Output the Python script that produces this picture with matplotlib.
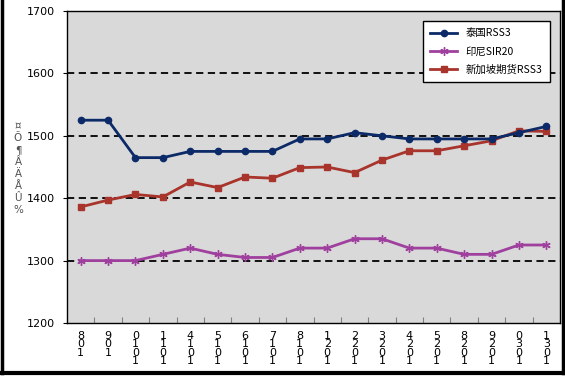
import matplotlib
matplotlib.use("Agg")
import matplotlib.pyplot as plt
from matplotlib.lines import Line2D

plt.rcParams['font.family'] = ['Noto Sans CJK SC', 'DejaVu Sans']

# x labels as they appear (stacked characters)
x_labels = ["801", "901", "0101", "1101", "4101", "5101", "6101", "7101", "8101",
            "1201", "2201", "3201", "4201", "5201", "8201", "9201", "0301", "1301"]

thai_rss3 = [1525, 1525, 1465, 1465, 1475, 1475, 1475, 1475, 1495,
             1495, 1505, 1500, 1495, 1495, 1495, 1495, 1505, 1515]
indo_sir20 = [1300, 1300, 1300, 1310, 1320, 1310, 1305, 1305, 1320,
              1320, 1335, 1335, 1320, 1320, 1310, 1310, 1325, 1325]
sgx_rss3 = [1386, 1397, 1406, 1402, 1426, 1417, 1434, 1432, 1449,
            1450, 1441, 1461, 1476, 1476, 1484, 1492, 1508, 1507]

series_names = ["泰国RSS3", "印尼SIR20", "新加坡期货RSS3"]
y_ticks = [1200, 1300, 1400, 1500, 1600, 1700]

fig = plt.figure(figsize=(5.65, 3.77), dpi=100)
ax = fig.add_axes([67/565, 1-323/377, 493/565, 312/377])
ax.set_facecolor('#D9D9D9')

x = list(range(len(x_labels)))
ax.plot(x, thai_rss3, color='#0C2A68', lw=2.0, marker='o', ms=4.5, label=series_names[0], zorder=4)
ax.plot(x, indo_sir20, color='#A0409E', lw=2.0, marker=(6, 2, 0), ms=6, mew=1.0, label=series_names[1], zorder=3)
ax.plot(x, sgx_rss3, color='#A8342C', lw=2.0, marker='s', ms=4.5, label=series_names[2], zorder=3)

ax.set_xlim(-0.5, len(x_labels) - 0.5)
ax.set_ylim(1200, 1700)
ax.set_yticks(y_ticks)
ax.set_yticklabels([str(v) for v in y_ticks], fontsize=8, family=['DejaVu Sans'])
for v in y_ticks[1:]:
    ax.axhline(v, color='black', lw=1.3, ls=(0, (4, 2.5)), zorder=1)

# ticks at category boundaries, labels at centres
ax.set_xticks([i + 0.5 for i in x[:-1]])
ax.set_xticklabels([])
ax.tick_params(axis='x', direction='in', length=4, color='#808080')
ax.tick_params(axis='y', direction='out', length=3, pad=6)
for i, lab in enumerate(x_labels):
    ax.text(i, -0.025, "\n".join(lab), transform=ax.get_xaxis_transform(),
            ha='center', va='top', fontsize=8, linespacing=0.8, family=['DejaVu Sans'])

for s in ax.spines.values():
    s.set_color('black')
    s.set_linewidth(1.0)

# garbled y axis label
ylab = ["¤", "Õ", "¶", "Â", "Ä", "Å", "Û", "%"]
fig.text(18/565, 1-168/377, "\n".join(ylab), ha='center', va='center', fontsize=7.5,
         linespacing=1.25, color='#505050', family=['DejaVu Sans'])

leg = ax.legend(loc='upper right', bbox_to_anchor=(0.99, 0.985), fontsize=7.5,
                frameon=True, fancybox=False, edgecolor='black', framealpha=1,
                handlelength=2.6, borderpad=0.7, labelspacing=0.8)
leg.get_frame().set_linewidth(1.0)

# outer black frame (left, right, bottom)
fig.add_artist(Line2D([1.5/565, 1.5/565], [4/377, 1], color='black', lw=2.5, transform=fig.transFigure))
fig.add_artist(Line2D([563/565, 563/565], [4/377, 1], color='black', lw=2.5, transform=fig.transFigure))
fig.add_artist(Line2D([1.5/565, 563/565], [4/377, 4/377], color='black', lw=3, transform=fig.transFigure))

fig.savefig("out.png", dpi=100)
